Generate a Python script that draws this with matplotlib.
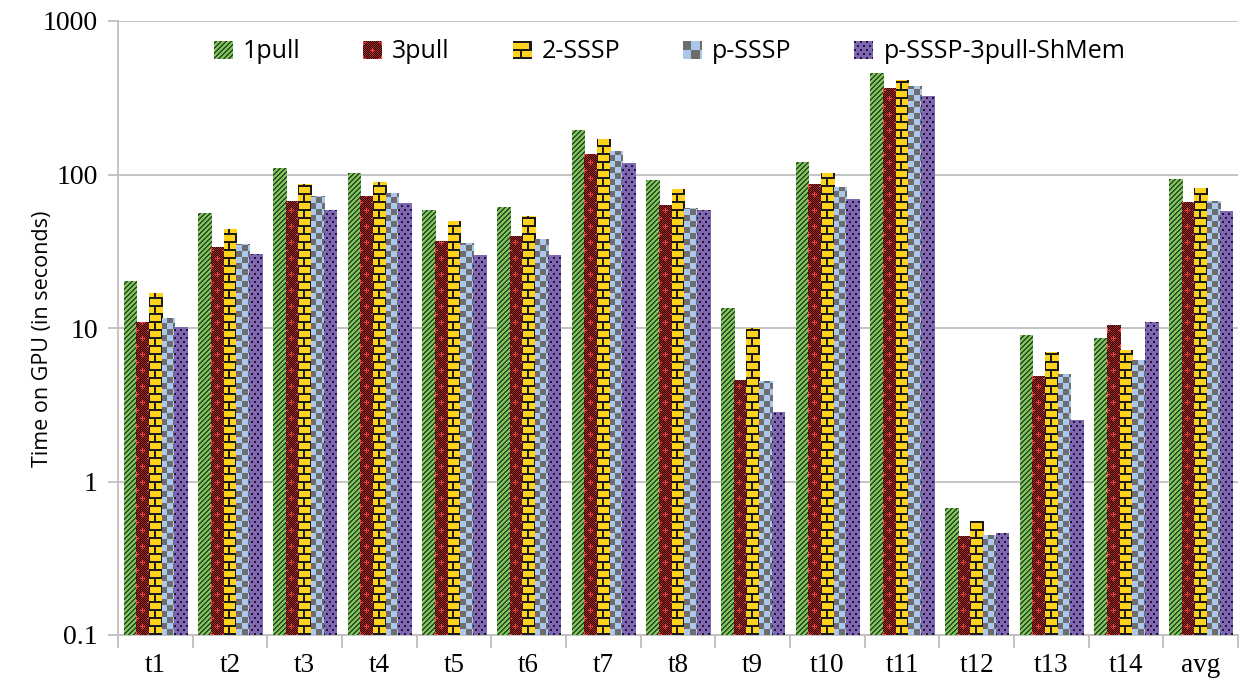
import matplotlib
matplotlib.use("Agg")
import matplotlib.pyplot as plt
from matplotlib.transforms import Bbox
import numpy as np

categories = ["t1", "t2", "t3", "t4", "t5", "t6", "t7", "t8", "t9", "t10",
              "t11", "t12", "t13", "t14", "avg"]
series_names = ["1pull", "3pull", "2-SSSP", "p-SSSP", "p-SSSP-3pull-ShMem"]
pull1 = [20.1, 56.4, 110.6, 102.6, 59.0, 61.7, 195.5, 92.4, 13.4, 121.0,
         459.0, 0.67, 9.07, 8.55, 93.8]
pull3 = [11.0, 33.9, 67.5, 72.8, 37.1, 40.0, 136.5, 63.6, 4.60, 87.0,
         366.0, 0.44, 4.84, 10.4, 66.5]
sssp2 = [16.8, 44.4, 87.0, 89.7, 50.0, 53.9, 171.0, 80.8, 9.93, 102.6,
         413.0, 0.552, 6.93, 7.24, 82.0]
psssp = [11.7, 35.4, 72.8, 76.0, 36.0, 38.2, 142.7, 60.8, 4.50, 83.2,
         378.0, 0.447, 4.99, 6.15, 67.5]
shmem = [10.2, 30.5, 59.0, 65.5, 30.1, 30.1, 119.0, 59.0, 2.85, 69.5,
         325.0, 0.46, 2.5, 10.9, 58.0]
values = [pull1, pull3, sssp2, psssp, shmem]

face = ["#7dc35b", "#8a1c1c", "#ffd21c", "#a9c6ec", "#8067b1"]


def hexrgb(h):
    h = h.lstrip("#")
    return np.array([int(h[k:k + 2], 16) / 255 for k in (0, 2, 4)])


def texture(kind, w, h, bw):
    """RGB texture, row 0 at bottom, column 0 at the mark's left edge."""
    ii, rr = np.meshgrid(np.arange(w), np.arange(h))
    img = np.zeros((h, w, 3))
    if kind == 0:  # green with dark diagonal stripes
        img[:] = hexrgb("#7dc35b")
        m = ((ii - rr) % 5) < 2
        img[m] = hexrgb("#2e4a26")
    elif kind == 1:  # red/black fine checker with red plus signs
        img[:] = hexrgb("#1a0505")
        img[((ii + rr) % 2) == 1] = hexrgb("#b82424")
        cx = int(round(bw / 2))
        for cy in range(8, h + 16, 16):
            for px, py in ((cx, cy), (0, cy - 8), (int(round(bw)), cy - 8)):
                m = ((np.abs(ii - px) <= 2) & (rr == py)) | \
                    ((np.abs(rr - py) <= 2) & (ii == px))
                img[m] = hexrgb("#ff3b3b")
    elif kind == 2:  # yellow bricks
        img[:] = hexrgb("#ffd21c")
        band = rr // 8
        m = (rr % 8) < 2
        cx = int(round(bw / 2))
        v_even = (band % 2 == 0) & ((ii == cx - 1) | (ii == cx))
        v_odd = (band % 2 == 1) & ((ii <= 0) | (ii >= int(round(bw)) - 1))
        img[m | v_even | v_odd] = hexrgb("#1a1a1a")
    elif kind == 3:  # blue/grey checkerboard
        s = max(2, int(round(bw / 2)))
        img[:] = hexrgb("#aac7ec")
        img[((ii // s + rr // s) % 2) == 1] = hexrgb("#6d6d6d")
    else:  # purple with black dots
        img[:] = hexrgb("#8067b1")
        row = rr // 4
        off = (row % 2) * 3
        m = (((ii + off) % 6) < 2) & ((rr % 4) < 2)
        img[m] = hexrgb("#1d1433")
    return img


serif = ["Liberation Serif", "DejaVu Serif"]
sans = ["Open Sans", "DejaVu Sans"]
ylab_font = ["Open Sans", "DejaVu Sans"]

fig = plt.figure(figsize=(12.4, 6.91), dpi=100)
ax = fig.add_axes([118/1240, 56/691, 1120/1240, 614/691])

n = len(categories)
x = np.arange(n)
bw = 0.169
bars = []
for i, (vals, name) in enumerate(zip(values, series_names)):
    bc = ax.bar(x + (i - 2) * bw, vals, width=bw, color=face[i],
                linewidth=0, label=name, zorder=3)
    bars.append(bc)

ax.set_yscale("log")
ax.set_ylim(0.1, 1000)
ax.set_xlim(-0.5, n - 0.5)
ax.set_yticks([0.1, 1, 10, 100, 1000])
ax.set_yticklabels(["0.1", "1", "10", "100", "1000"], family=serif, fontsize=20)
ax.yaxis.set_minor_locator(matplotlib.ticker.NullLocator())
ax.set_xticks(x)
ax.set_xticklabels(categories, family=serif, fontsize=19.5)
ax.set_xticks(np.arange(n + 1) - 0.5, minor=True)
ax.tick_params(axis="x", which="major", length=0, pad=13)
ax.tick_params(axis="x", which="minor", length=9, color="#bfbfbf", width=1.3)
ax.tick_params(axis="y", which="major", length=7.5, color="#bfbfbf", width=1.3, pad=7)
ax.grid(axis="y", which="major", color="#bfbfbf", linewidth=1.3, zorder=0)
ax.set_axisbelow(True)
for s in ["top", "right"]:
    ax.spines[s].set_visible(False)
for s in ["left", "bottom"]:
    ax.spines[s].set_color("#bfbfbf")
    ax.spines[s].set_linewidth(1.3)
ax.set_ylabel("Time on GPU (in seconds)", family=ylab_font, fontsize=15.5)
ax.yaxis.set_label_coords(-0.058, 0.483)

leg = ax.legend(loc="center", bbox_to_anchor=(0.4924, 0.9496), ncol=5,
                frameon=False, prop={"family": sans, "size": 18},
                handlelength=0.72, handleheight=0.72, columnspacing=2.5,
                handletextpad=0.45, borderpad=0, borderaxespad=0)

fig.canvas.draw()
axbox = ax.get_window_extent()


def add_texture(kind, patch):
    ext = patch.get_window_extent()
    ext = Bbox.intersection(ext, axbox)
    if ext is None or ext.width <= 0 or ext.height <= 0:
        return
    x0, y0 = int(np.floor(ext.x0)), int(np.floor(ext.y0))
    w = int(np.ceil(ext.x1)) - x0 + 1
    h = int(np.ceil(ext.y1)) - y0 + 1
    im = fig.figimage(texture(kind, w, h, ext.width), xo=x0, yo=y0,
                      origin="lower", zorder=1)
    im.set_clip_path(patch)


for i, bc in enumerate(bars):
    for rect in bc:
        add_texture(i, rect)
for i, hp in enumerate(leg.legend_handles):
    add_texture(i, hp)

fig.savefig("out.png", dpi=100)
